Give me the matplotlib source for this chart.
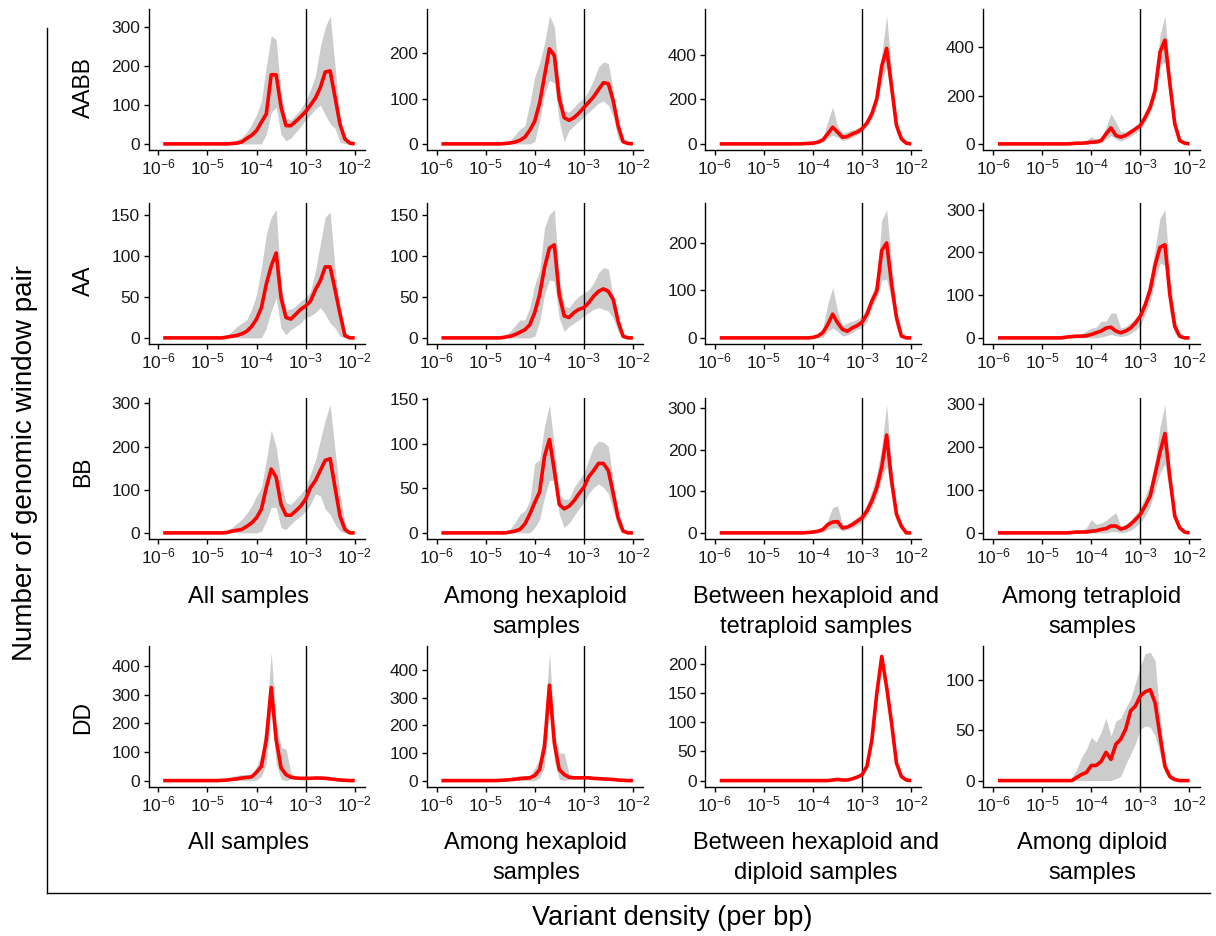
import numpy as np
import matplotlib
matplotlib.use("Agg")
import matplotlib.pyplot as plt
from matplotlib.lines import Line2D

plt.rcParams['font.family'] = ['Liberation Sans', 'DejaVu Sans']
plt.rcParams['mathtext.fontset'] = 'custom'
plt.rcParams['mathtext.rm'] = 'Liberation Sans'
plt.rcParams['mathtext.it'] = 'Liberation Sans'

# x positions (log10 variant density per bp)
LOG_X = [-5.9, -4.8, -4.7, -4.6, -4.5, -4.4, -4.3, -4.2, -4.1, -4.0, -3.9, -3.8, -3.7, -3.6, -3.5,
         -3.4, -3.3, -3.2, -3.1, -3.0, -2.9, -2.8, -2.7, -2.6, -2.5, -2.4, -2.3, -2.2, -2.1, -2.0]

row_labels = ["AABB", "AA", "BB", "DD"]
col_labels_abd = ["All samples", "Among hexaploid\nsamples",
                  "Between hexaploid and\ntetraploid samples", "Among tetraploid\nsamples"]
col_labels_d = ["All samples", "Among hexaploid\nsamples",
                "Between hexaploid and\ndiploid samples", "Among diploid\nsamples"]
x_tick_exps = [-6, -5, -4, -3, -2]

# ---------------- AABB ----------------
aabb_all_mean = [0,0,0,0,1,2,5,14,22,34,56,77,178,178,95,47,47,58,70,83,100,118,145,185,188,120,51,13,2,0]
aabb_all_hi   = [0,0,0,1,4,10,17,30,50,75,110,200,279,268,130,68,62,75,90,110,140,175,250,300,330,200,65,10,2,0]
aabb_all_lo   = [0,0,0,0,0,0,0,0,0,0,0,25,80,95,25,8,15,30,45,62,75,90,100,75,52,40,5,0,0,0]

aabb_hex_mean = [0,0,0,1,2,4,8,15,30,50,90,150,210,195,100,58,52,58,68,80,92,104,120,135,133,95,40,5,1,0]
aabb_hex_hi   = [0,0,0,3,7,20,33,40,89,148,178,222,283,259,133,74,70,81,93,100,118,141,170,181,178,118,37,4,0,0]
aabb_hex_lo   = [0,0,0,0,0,0,0,0,0,5,50,110,140,135,50,5,30,40,50,60,70,80,90,95,85,60,10,0,0,0]

aabb_btw_mean = [0,0,0,0,0,0,0,1,2,3,8,18,45,75,53,30,33,45,53,68,94,136,204,350,430,257,83,23,3,0]
aabb_btw_hi   = [0,0,0,0,0,0,1,2,4,6,12,30,100,166,80,50,55,62,70,85,110,160,240,400,577,330,110,30,5,0]
aabb_btw_lo   = [0,0,0,0,0,0,0,0,0,0,0,8,25,40,30,15,20,30,40,55,80,115,175,280,350,200,55,10,0,0]

aabb_tet_mean = [0,0,0,0,0,1,3,3,4,7,8,14,41,66,35,28,35,48,62,76,111,152,221,380,429,249,83,14,3,0]
aabb_tet_hi   = [0,0,0,0,0,2,5,10,15,30,20,25,70,125,90,50,50,60,75,95,130,175,260,450,530,300,110,25,5,0]
aabb_tet_lo   = [0,0,0,0,0,0,0,0,0,0,0,5,20,35,20,12,20,30,45,60,90,130,190,320,340,200,60,8,0,0]

# ---------------- AA ----------------
aa_all_mean = [0,0,0,1,2,3,5,8,14,23,37,66,88,104,49,25,23,29,35,39,45,59,70,87,87,59,30,3,0,0]
aa_all_hi   = [0,0,0,3,8,14,18,22,35,53,86,127,148,157,66,35,35,39,45,49,57,82,115,148,154,86,31,4,0,0]
aa_all_lo   = [0,0,0,0,0,0,0,0,0,0,0,12,33,49,12,4,10,14,18,25,27,31,37,29,18,12,2,0,0,0]

aa_hex_mean = [0,0,0,1,2,4,7,10,16,31,53,86,110,114,53,27,25,31,35,37,43,51,57,60,57,47,20,2,0,0]
aa_hex_hi   = [0,0,0,3,8,15,22,22,37,65,82,135,151,157,73,39,37,45,51,55,59,67,80,86,84,49,24,4,0,0]
aa_hex_lo   = [0,0,0,0,0,0,0,0,0,2,20,53,71,69,24,8,14,18,22,27,31,35,37,35,33,24,8,0,0,0]

aa_btw_mean = [0,0,0,0,0,0,0,0,0,1,4,11,28,50,32,18,14,21,26,33,50,78,99,184,200,113,43,4,0,0]
aa_btw_hi   = [0,0,0,0,0,0,0,1,2,4,7,21,71,106,57,25,32,35,39,46,64,92,121,248,270,156,60,11,0,0]
aa_btw_lo   = [0,0,0,0,0,0,0,0,0,0,0,1,14,21,14,4,6,11,18,21,35,64,85,121,124,78,21,0,0,0]

aa_tet_mean = [0,0,0,0,2,3,4,4,5,8,12,16,23,25,16,12,16,23,35,51,78,113,171,212,218,101,27,4,0,0]
aa_tet_hi   = [0,0,0,1,2,4,5,10,16,23,25,39,39,58,58,23,27,35,47,62,94,140,210,281,300,148,47,8,0,0]
aa_tet_lo   = [0,0,0,0,0,0,0,0,0,0,0,2,5,8,5,3,5,10,18,30,55,85,135,175,170,60,10,0,0,0]

# ---------------- BB ----------------
bb_all_mean = [0,0,0,1,4,6,8,15,23,35,55,105,148,129,66,41,41,51,62,78,105,121,145,168,172,105,39,8,0,0]
bb_all_hi   = [0,0,2,6,12,22,31,45,62,86,105,168,238,199,121,70,66,78,90,105,137,168,215,262,297,191,90,23,0,0]
bb_all_lo   = [0,0,0,0,0,0,0,0,0,0,4,27,59,59,12,8,20,31,39,51,66,90,86,55,43,20,4,0,0,0]

bb_hex_mean = [0,0,0,0,1,2,4,10,21,34,46,86,105,70,32,27,30,36,44,51,63,70,78,78,70,44,17,2,0,0]
bb_hex_hi   = [0,0,0,1,4,12,21,25,36,78,82,120,144,97,44,38,38,51,59,67,82,97,103,102,97,59,21,2,0,0]
bb_hex_lo   = [0,0,0,0,0,0,0,0,0,6,15,40,59,59,21,6,11,19,27,34,44,51,55,51,44,25,6,0,0,0]

bb_btw_mean = [0,0,0,0,0,0,0,0,1,2,4,8,20,26,27,12,14,20,28,36,53,77,109,158,235,126,45,16,0,0]
bb_btw_hi   = [0,0,0,0,0,0,0,1,2,4,6,10,30,61,65,20,20,28,38,49,69,101,142,207,308,158,53,20,0,0]
bb_btw_lo   = [0,0,0,0,0,0,0,0,0,0,0,2,8,12,12,5,8,12,18,25,40,60,90,130,160,90,30,8,0,0]

bb_tet_mean = [0,0,0,0,0,1,2,2,2,4,5,8,10,16,16,9,12,20,31,43,63,86,137,188,231,129,39,12,2,0]
bb_tet_hi   = [0,0,0,0,1,2,3,6,12,31,20,23,29,39,47,16,20,29,43,59,86,114,168,247,298,153,51,16,2,0]
bb_tet_lo   = [0,0,0,0,0,0,0,0,0,0,0,0,0,3,3,0,2,6,14,25,40,62,100,140,160,90,25,5,0,0]

# ---------------- DD ----------------
dd_all_mean = [0,0,1,2,4,6,9,11,13,29,50,144,326,144,45,21,12,9,8,8,8,9,9,8,6,4,2,1,0,0]
dd_all_hi   = [0,0,2,5,15,18,21,21,21,50,91,215,449,203,115,111,27,12,11,11,11,11,11,11,9,6,4,2,0,0]
dd_all_lo   = [0,0,0,0,0,0,0,0,0,2,15,60,250,60,5,0,5,5,5,5,5,5,5,5,3,2,0,0,0,0]

dd_hex_mean = [0,0,1,2,3,5,7,9,10,18,40,124,346,136,40,22,12,10,10,10,10,8,7,6,5,4,2,1,0,0]
dd_hex_hi   = [0,0,2,6,12,15,18,18,18,45,80,200,465,180,100,100,25,12,12,12,12,10,9,8,7,6,4,2,0,0]
dd_hex_lo   = [0,0,0,0,0,0,0,0,0,0,10,50,260,70,5,0,4,6,6,6,6,5,4,3,2,1,0,0,0,0]

dd_btw_mean = [0,0,0,0,0,0,0,0,0,0,0,0,0,1,2,1,1,3,6,10,25,70,150,213,160,99,30,7,1,0]
dd_btw_hi   = [0,0,0,0,0,0,0,0,0,1,1,1,1,2,3,2,2,4,7,12,28,75,160,220,168,105,35,9,2,0]
dd_btw_lo   = [0,0,0,0,0,0,0,0,0,0,0,0,0,0,1,0,0,2,5,8,22,65,140,205,150,93,28,5,0,0]

dd_dip_mean = [0,0,0,0,0,0,3,6,8,15,15,19,28,21,36,41,51,69,74,84,88,90,77,44,14,4,1,0,0,0]
dd_dip_hi   = [0,0,0,0,0,3,11,23,31,43,38,48,62,44,59,62,72,81,97,114,126,127,119,61,21,6,1,0,0,0]
dd_dip_lo   = [0,0,0,0,0,0,0,0,0,0,0,0,0,0,2,4,16,26,37,51,54,53,44,26,8,1,0,0,0,0]

panels = [
    [(aabb_all_mean, aabb_all_lo, aabb_all_hi, [0, 100, 200, 300]),
     (aabb_hex_mean, aabb_hex_lo, aabb_hex_hi, [0, 100, 200]),
     (aabb_btw_mean, aabb_btw_lo, aabb_btw_hi, [0, 200, 400]),
     (aabb_tet_mean, aabb_tet_lo, aabb_tet_hi, [0, 200, 400])],
    [(aa_all_mean, aa_all_lo, aa_all_hi, [0, 50, 100, 150]),
     (aa_hex_mean, aa_hex_lo, aa_hex_hi, [0, 50, 100, 150]),
     (aa_btw_mean, aa_btw_lo, aa_btw_hi, [0, 100, 200]),
     (aa_tet_mean, aa_tet_lo, aa_tet_hi, [0, 100, 200, 300])],
    [(bb_all_mean, bb_all_lo, bb_all_hi, [0, 100, 200, 300]),
     (bb_hex_mean, bb_hex_lo, bb_hex_hi, [0, 50, 100, 150]),
     (bb_btw_mean, bb_btw_lo, bb_btw_hi, [0, 100, 200, 300]),
     (bb_tet_mean, bb_tet_lo, bb_tet_hi, [0, 100, 200, 300])],
    [(dd_all_mean, dd_all_lo, dd_all_hi, [0, 100, 200, 300, 400]),
     (dd_hex_mean, dd_hex_lo, dd_hex_hi, [0, 100, 200, 300, 400]),
     (dd_btw_mean, dd_btw_lo, dd_btw_hi, [0, 50, 100, 150, 200]),
     (dd_dip_mean, dd_dip_lo, dd_dip_hi, [0, 50, 100])],
]

W, H = 1216, 936
fig = plt.figure(figsize=(W / 100, H / 100), dpi=100)

col_left = [148.5, 426.7, 705.0, 983.3]
row_top = [9.3, 203.3, 398.3, 646.0]
ax_w, ax_h = 216.5, 141.0

x_vals = 10.0 ** np.array(LOG_X)

for r in range(4):
    for c in range(4):
        mean, lo, hi, yt = panels[r][c]
        rect = [col_left[c] / W, 1 - (row_top[r] + ax_h) / H, ax_w / W, ax_h / H]
        ax = fig.add_axes(rect)
        ax.fill_between(x_vals, lo, hi, color='#cccccc', linewidth=0, zorder=1)
        ax.plot(x_vals, mean, color='#ff0000', linewidth=2.6, zorder=3,
                solid_joinstyle='round', solid_capstyle='butt')
        ax.axvline(1e-3, color='black', linewidth=1.0, zorder=2)
        ax.set_xscale('log')
        ax.set_xlim(10 ** -6.2, 10 ** -1.79)
        top = max(hi)
        ax.set_ylim(-0.05 * top, 1.05 * top)
        ax.set_xticks([10.0 ** e for e in x_tick_exps])
        ax.set_xticklabels([r'$10^{%d}$' % e for e in x_tick_exps])
        ax.xaxis.set_minor_locator(matplotlib.ticker.NullLocator())
        ax.set_yticks(yt)
        ax.set_yticklabels([str(v) for v in yt])
        for s in ['top', 'right']:
            ax.spines[s].set_visible(False)
        for s in ['left', 'bottom']:
            ax.spines[s].set_linewidth(1.0)
            ax.spines[s].set_color('black')
        ax.tick_params(axis='both', which='major', length=3.5, width=1.0,
                       color='black', labelsize=12.5, labelcolor='#1a1a1a')
        ax.tick_params(axis='x', pad=2)
        ax.tick_params(axis='y', pad=2.5)
        ax.set_facecolor('none')

# row labels
row_label_y = [88, 281, 472, 717]
for lbl, yy in zip(row_labels, row_label_y):
    fig.text(83 / W, 1 - yy / H, lbl, rotation=90, ha='center', va='center', fontsize=16.5)

# column labels (one text line per row of text)
col_centers = [248, 536, 816, 1092]
for row_y, labels in [(597, col_labels_abd), (843, col_labels_d)]:
    for lbl, xx in zip(labels, col_centers):
        for i, ln in enumerate(lbl.split('\n')):
            fig.text(xx / W, 1 - (row_y + 30 * i) / H, ln, ha='center', va='center', fontsize=17)

# outer frame lines
fig.add_artist(Line2D([47 / W, 47 / W], [1 - 28 / H, 1 - 893 / H], color='black', linewidth=1.0,
                      transform=fig.transFigure))
fig.add_artist(Line2D([47 / W, 1210 / W], [1 - 893 / H, 1 - 893 / H], color='black', linewidth=1.0,
                      transform=fig.transFigure))

fig.text(25 / W, 1 - 463 / H, "Number of genomic window pair", rotation=90,
         ha='center', va='center', fontsize=20)
fig.text(672 / W, 1 - 918 / H, "Variant density (per bp)", ha='center', va='center', fontsize=19.5)

fig.savefig("out.png", dpi=100, facecolor='white')
